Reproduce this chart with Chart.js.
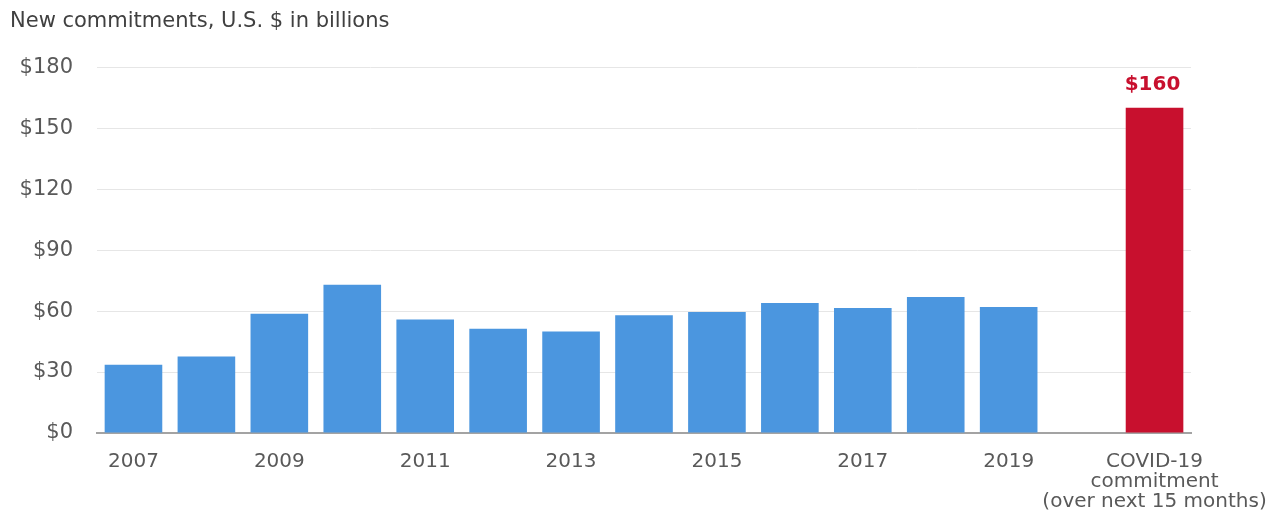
<!DOCTYPE html>
<html>
<head>
<meta charset="utf-8">
<script src="https://cdn.jsdelivr.net/npm/chart.js@4"></script>
<style>
  html, body { margin: 0; padding: 0; background: #fff; }
  .chart-box { width: 1273px; height: 515px; position: relative; }
</style>
</head>
<body>
<div class="chart-box"><canvas class="commit-chart"></canvas></div>
<script>
  const years = ["2007", "2008", "2009", "2010", "2011", "2012", "2013",
    "2014", "2015", "2016", "2017", "2018", "2019"];
  const covidLabel = ["COVID-19", "commitment", "(over next 15 months)"];
  const categories = [...years, "", covidLabel];
  const commitments = [33.6, 37.7, 58.7, 73.0, 55.9, 51.3, 50.0, 57.9, 59.5, 64.0, 61.5, 66.9, 62.0, null, 160];
  const yMax = 180;
  const yStep = 30;

  const covidIdx = categories.length - 1;
  const barColors = categories.map((c, i) => (i === covidIdx ? "#c8102e" : "#4b96df"));

  const font = "'DejaVu Sans', sans-serif";

  // red value label above the COVID bar
  const covidValueLabel = {
    id: "covidValueLabel",
    afterDatasetsDraw(chart) {
      const bar = chart.getDatasetMeta(0).data[covidIdx];
      const ctx = chart.ctx;
      ctx.save();
      ctx.font = "bold 20px " + font;
      ctx.fillStyle = "#c8102e";
      ctx.textAlign = "center";
      ctx.textBaseline = "middle";
      ctx.fillText("$" + commitments[covidIdx], bar.x - 2, bar.y - 23);
      ctx.restore();
    },
  };

  new Chart(document.querySelector(".commit-chart"), {
    type: "bar",
    data: {
      labels: categories,
      datasets: [
        {
          label: "",
          data: commitments,
          backgroundColor: barColors,
          categoryPercentage: 1,
          barPercentage: 0.79,
        },
      ],
    },
    options: {
      responsive: true,
      maintainAspectRatio: false,
      animation: false,
      layout: { padding: { top: 0, left: 10, right: 82, bottom: 4 } },
      plugins: {
        legend: { display: false },
        tooltip: { enabled: false },
        title: {
          display: true,
          text: "New commitments, U.S. $ in billions",
          align: "start",
          color: "#404040",
          font: { family: font, size: 21, weight: "normal", lineHeight: 1.2 },
          padding: { top: 9, bottom: 33 },
        },
      },
      scales: {
        x: {
          grid: { display: false },
          border: { color: "#a3a3a3", width: 2 },
          ticks: {
            autoSkip: false,
            maxRotation: 0,
            padding: 11,
            color: "#595959",
            font: { family: font, size: 20, lineHeight: 1 },
            callback: function (v, i) {
              if (i === covidIdx || (i < years.length && i % 2 === 0)) return this.getLabelForValue(v);
              return "";
            },
          },
          afterFit: (s) => {
            s.paddingLeft = 0;
            s.paddingRight = 0;
            s.height = 78;
          },
        },
        y: {
          min: 0,
          max: yMax,
          border: { display: false },
          grid: { color: "#e6e6e6", lineWidth: 1, drawTicks: false },
          ticks: {
            stepSize: yStep,
            padding: 24,
            color: "#595959",
            font: { family: font, size: 21 },
            callback: (v) => "$" + v,
          },
          afterFit: (s) => {
            s.width = 87;
          },
        },
      },
    },
    plugins: [covidValueLabel],
  });
</script>
</body>
</html>
